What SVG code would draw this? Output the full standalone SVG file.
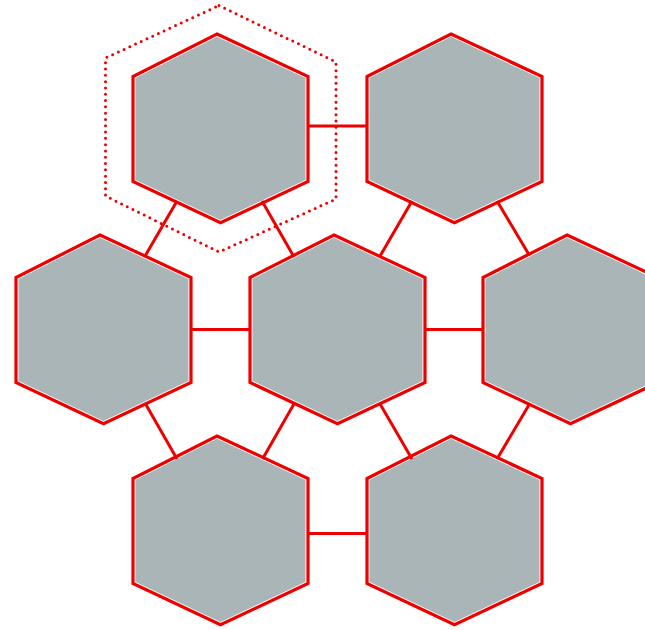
<svg xmlns="http://www.w3.org/2000/svg" xmlns:xlink="http://www.w3.org/1999/xlink" width="645" height="630" viewBox="0 0 645 630">
<style>
.fillh{fill:#a9b5b6;stroke:#ffffff;stroke-width:5;stroke-linejoin:miter}
.edge{fill:none;stroke:#ee0000;stroke-width:3.2;stroke-linejoin:miter}
.conn line{stroke:#ee0000;stroke-width:3;stroke-linecap:butt}
.sel{fill:none;stroke:#ee0000;stroke-width:3;stroke-linecap:round;stroke-dasharray:0 6.3}
</style>
<defs>
<polygon id="hexshape" points="84,0 175,42.5 175,147.5 87.5,188.7 0,147.5 0,42.5"/>
</defs>
<rect width="645" height="630" fill="#ffffff"/>
<g id="hex1" transform="translate(133,34)"><use href="#hexshape" class="fillh"/><use href="#hexshape" class="edge"/></g>
<g id="hex2" transform="translate(367,34)"><use href="#hexshape" class="fillh"/><use href="#hexshape" class="edge"/></g>
<g id="hex3" transform="translate(16,235)"><use href="#hexshape" class="fillh"/><use href="#hexshape" class="edge"/></g>
<g id="hex4" transform="translate(250,235)"><use href="#hexshape" class="fillh"/><use href="#hexshape" class="edge"/></g>
<g id="hex5" transform="translate(483,235)"><use href="#hexshape" class="fillh"/><use href="#hexshape" class="edge"/></g>
<g id="hex6" transform="translate(133,436)"><use href="#hexshape" class="fillh"/><use href="#hexshape" class="edge"/></g>
<g id="hex7" transform="translate(367,436)"><use href="#hexshape" class="fillh"/><use href="#hexshape" class="edge"/></g>
<g id="connectors" class="conn">
<line x1="308" y1="126" x2="367" y2="126"/>
<line x1="177" y1="201" x2="144.5" y2="257"/>
<line x1="262" y1="201" x2="294" y2="257"/>
<line x1="412" y1="201" x2="379.5" y2="257"/>
<line x1="497" y1="201" x2="529.5" y2="255.5"/>
<line x1="191" y1="329.5" x2="250" y2="329.5"/>
<line x1="425" y1="329.5" x2="483" y2="329.5"/>
<line x1="145" y1="403" x2="177" y2="459"/>
<line x1="294.5" y1="403" x2="262.5" y2="459"/>
<line x1="379.5" y1="403" x2="412" y2="459"/>
<line x1="529.5" y1="404" x2="497" y2="459"/>
<line x1="308" y1="533.5" x2="367" y2="533.5"/>
</g>
<g id="selection">
<polygon class="sel" points="219,5.5 336,62 336,199 219,252 105.5,196 105.5,58"/>
</g>
</svg>
